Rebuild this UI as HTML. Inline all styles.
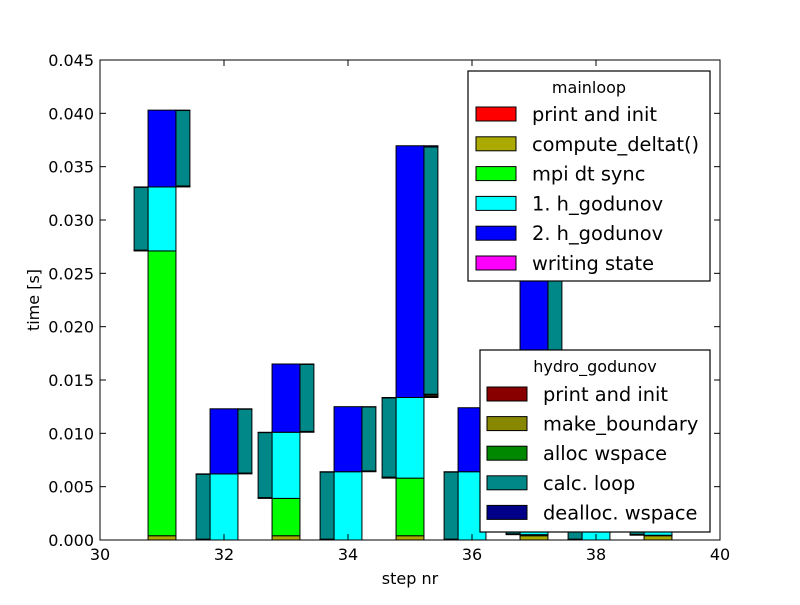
<!DOCTYPE html>
<html><head><meta charset="utf-8"><style>
body{margin:0;background:#fff}
svg text{font-family:"DejaVu Sans","Liberation Sans",sans-serif}
</style></head><body>
<svg id="chart" width="800" height="600" xmlns="http://www.w3.org/2000/svg"></svg>
<script>
const steps = [31,32,33,34,35,36,37,38,39];
const mainPrint = [0,0,0,0,0,0,0,0,0];
const mainDeltat = [0.0004,0,0.0004,0,0.0004,0,0.0004,0,0.0004];
const mainMpi = [0.0267,0,0.0035,0,0.0054,0,0.0001,0,0.00005];
const mainH1 = [0.0060,0.0062,0.0062,0.0064,0.00756,0.0064,0.0060,0.0062,0.0058];
const mainH2 = [0.0072,0.0061,0.0064,0.0061,0.0236,0.0060,0.0230,0.0061,0.0060];
const mainWrite = [0,0,0,0,0,0,0,0,0];
const xTicks = [30,32,34,36,38,40];
const yTicks = [0,0.005,0.010,0.015,0.020,0.025,0.030,0.035,0.040,0.045];
const mainNames = ["print and init","compute_deltat()","mpi dt sync","1. h_godunov","2. h_godunov","writing state"];
const hydroNames = ["print and init","make_boundary","alloc wspace","calc. loop","dealloc. wspace"];
const mainColors = ["#ff0000","#aaaa00","#00ff00","#00ffff","#0000ff","#ff00ff"];
const hydroColors = ["#880000","#888800","#008800","#008888","#000088"];
const hydroFrac = [0.005,0.005,0.003,0.982,0.005];

const NS="http://www.w3.org/2000/svg", svg=document.getElementById('chart');
const X0=100,X1=720,Y0=540,Y1=60;
const xs=v=>X0+(v-30)/10*(X1-X0);
const ys=v=>Y0-v/0.045*(Y0-Y1);
function mk(t,a,p){const e=document.createElementNS(NS,t);for(const k in a)e.setAttribute(k,a[k]);(p||svg).appendChild(e);return e;}
function rect(x0,x1,b,t,fill,name){
  const r=mk('rect',{x:xs(x0),y:ys(t),width:xs(x1)-xs(x0),height:Math.max(0,ys(b)-ys(t)),fill:fill,stroke:'#000','stroke-width':1});
  
  
}
const series=[mainPrint,mainDeltat,mainMpi,mainH1,mainH2,mainWrite];
steps.forEach((s,i)=>{
  let base=0;
  series.forEach((arr,k)=>{
    const v=arr[i];
    if(v>0){
      rect(s-0.225,s+0.225,base,base+v,mainColors[k],'bar-'+s+'-'+k);
      if(k===3||k===4){
        const l=k===3?s-0.45:s+0.225, r=l+0.225;
        let hb=base;
        hydroFrac.forEach((f,j)=>{rect(l,r,hb,hb+v*f,hydroColors[j],'hydro-bar-'+s+'-'+k+'-'+j);hb+=v*f;});
      }
    }
    base+=v;
  });
});
// axes frame
const fr=mk('rect',{x:X0,y:Y1,width:X1-X0,height:Y0-Y1,fill:'none',stroke:'#000','stroke-width':1});

xTicks.forEach(t=>{
  mk('line',{x1:xs(t),x2:xs(t),y1:Y0,y2:Y0-6,stroke:'#000'});
  mk('line',{x1:xs(t),x2:xs(t),y1:Y1,y2:Y1+6,stroke:'#000'});
  const tx=mk('text',{x:xs(t),y:Y0+20,'text-anchor':'middle','font-size':'16px'});tx.textContent=t;
  
});
yTicks.forEach(t=>{
  mk('line',{x1:X0,x2:X0+6,y1:ys(t),y2:ys(t),stroke:'#000'});
  mk('line',{x1:X1,x2:X1-6,y1:ys(t),y2:ys(t),stroke:'#000'});
  const tx=mk('text',{x:X0-6,y:ys(t)+6,'text-anchor':'end','font-size':'16px'});tx.textContent=t.toFixed(3);
  
});
const xl=mk('text',{x:410,y:584,'text-anchor':'middle','font-size':'16px'});xl.textContent='step nr';

const yl=mk('text',{x:39,y:300,'text-anchor':'middle','font-size':'16px',transform:'rotate(-90 39 300)'});yl.textContent='time [s]';

function legend(x,y,w,h,title,names,colors,px,tx,ty0,dy,nm){
  const g=mk('g',{});
  
  mk('rect',{x:x,y:y,width:w,height:h,fill:'#fff',stroke:'#000','stroke-width':1.2},g);
  const t=mk('text',{x:x+w/2,y:y+22,'text-anchor':'middle','font-size':'16px'},g);t.textContent=title;
  names.forEach((n,i)=>{
    const cy=ty0+i*dy;
    const p=mk('rect',{x:px,y:cy-7,width:40,height:14,fill:colors[i],stroke:'#000'},g);
    
    const e=mk('text',{x:tx,y:cy+7,'font-size':'19.4px'},g);e.textContent=n;
    
  });
}
legend(468,71,242,210,'mainloop',mainNames,mainColors,476,532,114,29.8,'mainloop-legend');
legend(480,350,230,182,'hydro_godunov',hydroNames,hydroColors,487,543,394,29.6,'hydro-legend');
</script>
</body></html>
